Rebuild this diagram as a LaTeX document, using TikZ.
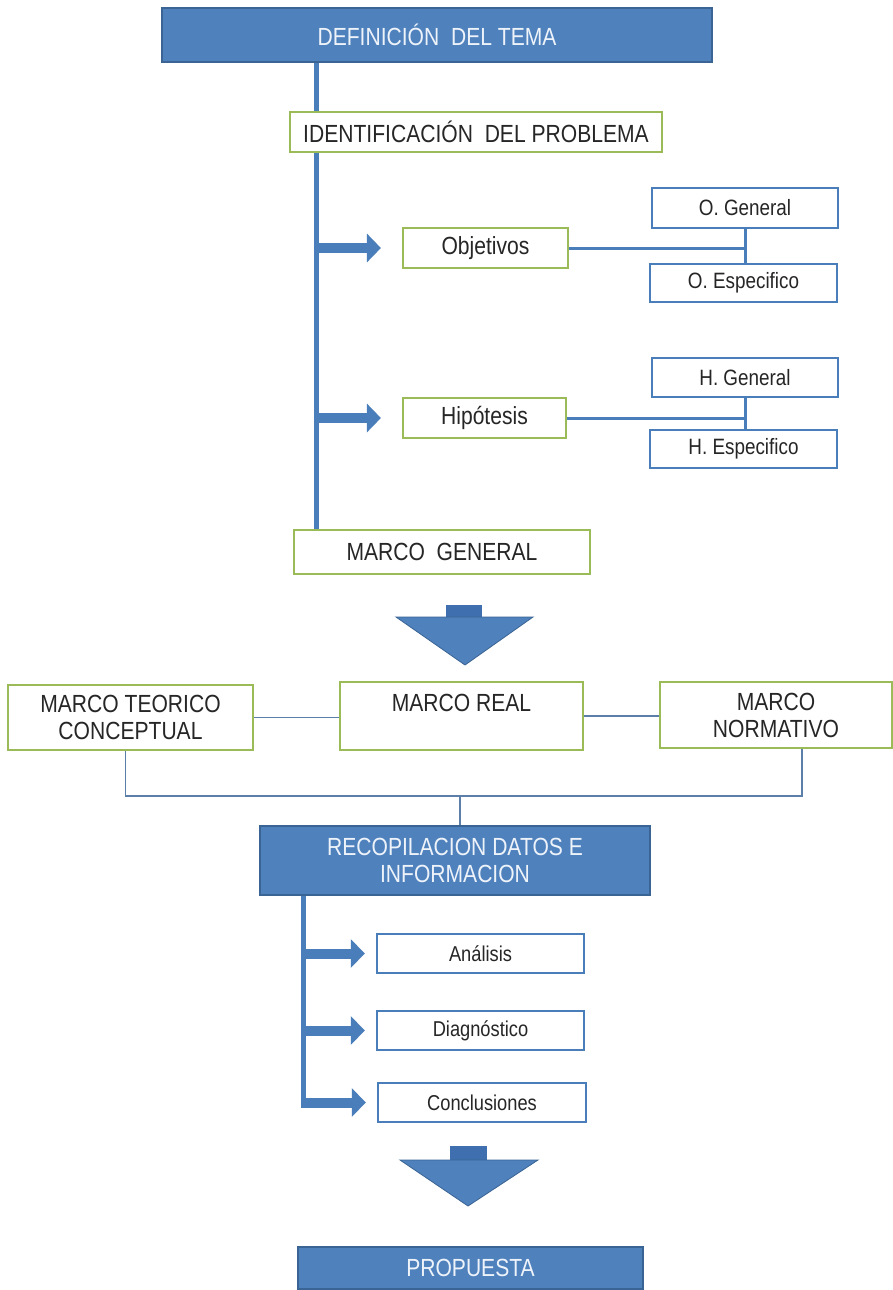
\documentclass[tikz,border=0pt]{standalone}
\usepackage{fontspec}
\setmainfont{Liberation Sans}[FakeStretch=0.85]
\usetikzlibrary{arrows.meta,calc}
\definecolor{bfill}{HTML}{4F81BD}
\definecolor{bdraw}{HTML}{3A6494}
\definecolor{bdark}{HTML}{3F6FAE}
\definecolor{gdraw}{HTML}{9BBB59}
\definecolor{sdraw}{HTML}{4A7EBB}
\definecolor{lnk}{HTML}{5B7FA8}
\definecolor{wtext}{HTML}{EEF3FA}
\begin{document}
\begin{tikzpicture}[x=1pt,y=-1pt,
  bluebox/.style={draw=bdraw, fill=bfill, line width=1.5pt, text=wtext, inner sep=0pt, align=center},
  greenbox/.style={draw=gdraw, fill=white, line width=2.2pt, inner sep=0pt, align=center, text=black!85},
  smallbox/.style={draw=sdraw, fill=white, line width=2.4pt, inner sep=0pt, align=center, text=black!85},
  trunk/.style={draw=sdraw, line width=5pt},
  blockarr/.style={draw=sdraw, line width=10pt, -{Triangle[length=14pt,width=28pt]}},
  link/.style={draw=sdraw, line width=3pt},
  thinlink/.style={draw=lnk, line width=1.2pt},
  fbig/.style={font=\fontsize{24.8}{27}\selectfont},
  fmid/.style={font=\fontsize{22.2}{24}\selectfont},
  fsmall/.style={font=\fontsize{21.5}{24}\selectfont}
]
\useasboundingbox[fill=white] (0,0) rectangle (893,1290);

\coordinate (trunkx) at (316,0);
\coordinate (trunkb) at (303,0);

\node[bluebox, fbig, minimum width=550pt, minimum height=54pt] (tema) at (437,35) {DEFINICIÓN~ DEL TEMA};
\draw[trunk] (tema.south -| trunkx) -- (trunkx |- 0,530);

\node[greenbox, fbig, minimum width=372pt, minimum height=40pt] (ident) at (476,132) {IDENTIFICACIÓN~ DEL PROBLEMA};
\node[greenbox, fbig, minimum width=165pt, minimum height=40pt] (obj) at (485.5,248) {Objetivos};
\node[greenbox, fbig, minimum width=163pt, minimum height=40pt] (hip) at (484.5,418) {Hipótesis};
\node[smallbox, fmid, minimum width=186pt, minimum height=40pt] (og) at (745,208) {O. General};
\node[smallbox, fmid, minimum width=187pt, minimum height=38pt] (oe) at (743.5,283) {O. Especifico};
\node[smallbox, fmid, minimum width=186pt, minimum height=39pt] (hg) at (745,377.5) {H. General};
\node[smallbox, fmid, minimum width=187pt, minimum height=38pt] (he) at (743.5,449) {H. Especifico};
\node[greenbox, fbig, minimum width=296pt, minimum height=44pt] (mg) at (442,552) {MARCO~ GENERAL};

\draw[blockarr, shorten >=21pt] (trunkx |- obj.west) -- (obj.west);
\draw[blockarr, shorten >=21pt] (trunkx |- hip.west) -- (hip.west);

\draw[link] (obj.east) -- (obj.east -| og.south);
\draw[link] (og.south) -- (og.south |- oe.north);
\draw[link] (hip.east) -- (hip.east -| hg.south);
\draw[link] (hg.south) -- (hg.south |- he.north);

% down arrow 1
\fill[bdark] (446,605) rectangle (482,618);
\filldraw[fill=bfill, draw=bdraw, line width=0.8pt] (396,617) -- (533,617) -- (465,665) -- cycle;

% marco row
\node[greenbox, fbig, minimum width=245pt, minimum height=65pt] (mtc) at (130.5,717.5) {MARCO TEORICO\\CONCEPTUAL};
\node[greenbox, fbig, minimum width=243pt, minimum height=68pt] (mr) at (461.5,716) {MARCO REAL\\\mbox{}};
\node[greenbox, fbig, minimum width=232pt, minimum height=66pt] (mn) at (776,715) {MARCO\\NORMATIVO};

\draw[thinlink] (mtc.east) -- (mtc.east -| mr.west);
\draw[thinlink] (mr.east) -- (mr.east -| mn.west);

\coordinate (bjoin) at (460,796);
\draw[thinlink] ([xshift=-5pt]mtc.south) |- (bjoin) -| ([xshift=26pt]mn.south);

\node[bluebox, fbig, minimum width=390pt, minimum height=69pt] (rec) at (455,860.5) {RECOPILACION DATOS E\\INFORMACION};
\draw[thinlink] (bjoin) -- (bjoin |- rec.north);

\node[smallbox, fsmall, minimum width=207pt, minimum height=39pt] (an) at (480.5,953.5) {Análisis};
\node[smallbox, fsmall, minimum width=207pt, minimum height=39pt] (di) at (480.5,1030.5) {Diagnóstico};
\node[smallbox, fsmall, minimum width=208pt, minimum height=39pt] (co) at (482,1102.5) {Conclusiones};

\draw[trunk] (rec.south -| trunkb) -- (trunkb |- co.west);
\draw[blockarr, shorten >=11pt] (trunkb |- an.west) -- (an.west);
\draw[blockarr, shorten >=11pt] (trunkb |- di.west) -- (di.west);
\draw[blockarr, shorten >=11pt] ([xshift=-2.5pt]trunkb |- co.west) -- (co.west);

% down arrow 2
\fill[bdark] (450,1146) rectangle (487,1161);
\filldraw[fill=bfill, draw=bdraw, line width=0.8pt] (400,1160) -- (538,1160) -- (468,1206) -- cycle;

\node[bluebox, fbig, minimum width=345pt, minimum height=42pt] (prop) at (470.5,1268) {PROPUESTA};
\end{tikzpicture}
\end{document}
